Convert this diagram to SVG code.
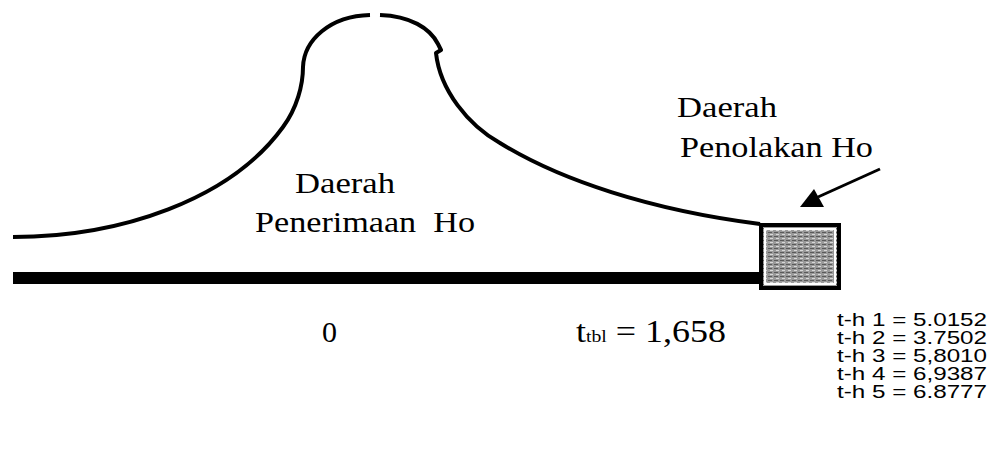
<svg xmlns="http://www.w3.org/2000/svg" width="994" height="456" viewBox="0 0 994 456">
<defs>
<style>
.curve{fill:none;stroke:#000;stroke-width:4;stroke-linecap:butt;stroke-linejoin:round}
.serif{font-family:"Liberation Serif","Times New Roman",serif;fill:#000}
.sans{font-family:"Liberation Sans",Arial,sans-serif;fill:#000;font-size:18.5px}
</style>
<pattern id="tex" width="6" height="4" patternUnits="userSpaceOnUse">
<rect width="6" height="4" fill="#9a9a9a"/>
<rect width="4" height="1" fill="#5a5a5a"/>
<rect x="2" y="2" width="3" height="1" fill="#d8d8d8"/>
</pattern>
</defs>
<rect width="994" height="456" fill="#fff"/>
<g id="curve">
<path class="curve" d="M13,237 C120,237 230,200 283,127 C297,108 303,85 303,67 C304,40 330,16 370,15"/>
<path class="curve" d="M380,15 C410,16 430,28 438,44 L441,50 L436,53 C440,90 468,125 500,143 C560,180 650,210 760,224"/>
</g>
<g id="axis">
<rect x="13" y="272" width="750" height="12" fill="#000"/>
</g>
<g id="rejection-box">
<rect x="761" y="225" width="78" height="63" fill="url(#tex)" stroke="#000" stroke-width="4"/>
<rect x="765" y="229" width="70" height="55" fill="none" stroke="#fff" stroke-width="2"/>
</g>
<g id="connectors">
<line x1="880" y1="169" x2="818" y2="197" stroke="#000" stroke-width="3"/>
<polygon points="814,189 800,207 824,207" fill="#000"/>
</g>
<g id="label-accept">
<text class="serif" x="295" y="193" font-size="30" textLength="100" lengthAdjust="spacingAndGlyphs">Daerah</text>
<text class="serif" x="255" y="232" font-size="30" textLength="220" lengthAdjust="spacingAndGlyphs" xml:space="preserve">Penerimaan  Ho</text>
</g>
<g id="label-reject">
<text class="serif" x="677" y="117" font-size="30" textLength="100" lengthAdjust="spacingAndGlyphs">Daerah</text>
<text class="serif" x="680" y="157" font-size="30" textLength="193" lengthAdjust="spacingAndGlyphs">Penolakan Ho</text>
</g>
<g id="label-zero">
<text class="serif" x="322" y="342" font-size="30">0</text>
</g>
<g id="label-ttbl">
<text class="serif" x="576" y="342" font-size="31" textLength="150" lengthAdjust="spacingAndGlyphs">t<tspan font-size="17">tbl</tspan> = 1,658</text>
</g>
<g id="label-th">
<text class="sans"><tspan x="837" y="326" textLength="150" lengthAdjust="spacingAndGlyphs">t-h 1 = 5.0152</tspan><tspan x="837" y="344" textLength="150" lengthAdjust="spacingAndGlyphs">t-h 2 = 3.7502</tspan><tspan x="837" y="362" textLength="150" lengthAdjust="spacingAndGlyphs">t-h 3 = 5,8010</tspan><tspan x="837" y="380" textLength="150" lengthAdjust="spacingAndGlyphs">t-h 4 = 6,9387</tspan><tspan x="837" y="398" textLength="150" lengthAdjust="spacingAndGlyphs">t-h 5 = 6.8777</tspan></text>
</g>
</svg>
